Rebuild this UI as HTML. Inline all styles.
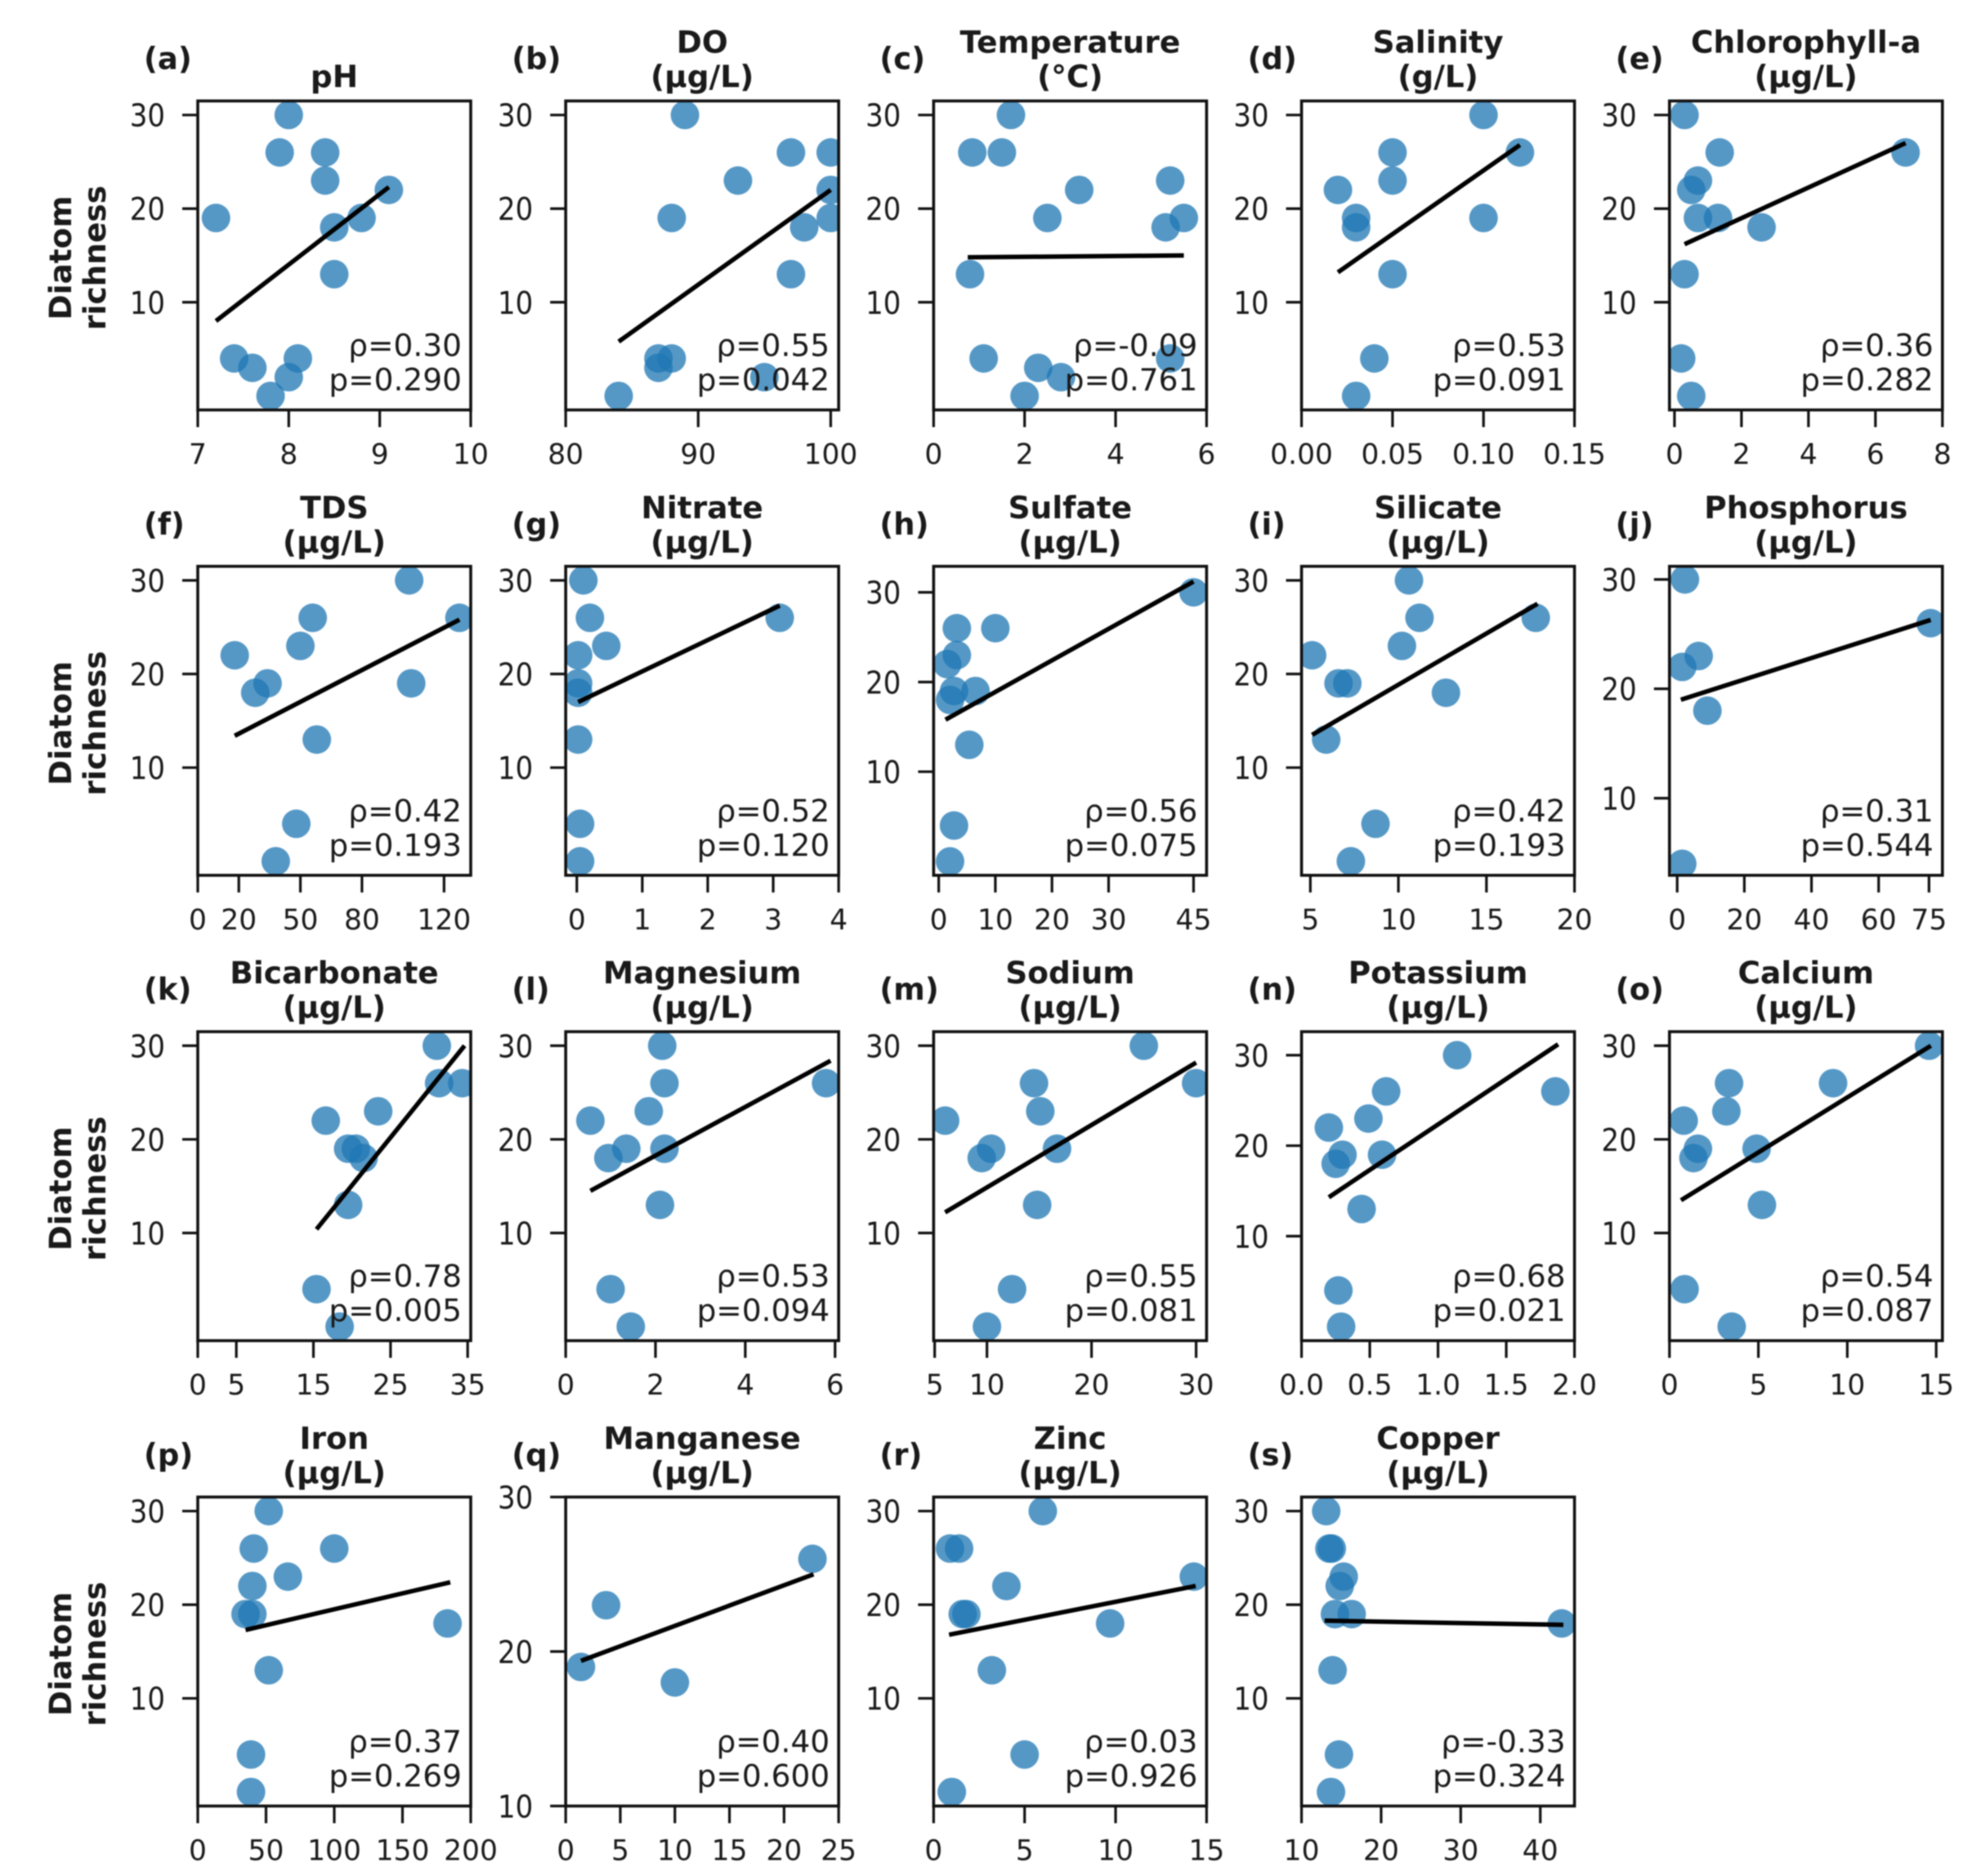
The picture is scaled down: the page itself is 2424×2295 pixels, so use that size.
<!DOCTYPE html>
<html lang="en">
<head>
<meta charset="utf-8">
<title>Diatom richness correlations</title>
<style>
html,body{margin:0;padding:0;background:#fff;}
svg{display:block;filter:blur(0.9px);}
text{font-family:"DejaVu Sans","Liberation Sans",sans-serif;fill:#1a1a1a;}
</style>
</head>
<body>
<svg id="figure" width="2424" height="2295" viewBox="0 0 2424 2295" xmlns="http://www.w3.org/2000/svg">
<rect width="2424" height="2295" fill="#fff"/>
</svg>
<script>
const panelLetters = ['a','b','c','d','e','f','g','h','i','j','k','l','m','n','o','p','q','r','s'];
const titleFirstLines = ['','DO','Temperature','Salinity','Chlorophyll-a','TDS','Nitrate','Sulfate','Silicate','Phosphorus','Bicarbonate','Magnesium','Sodium','Potassium','Calcium','Iron','Manganese','Zinc','Copper'];
const titleSecondLines = ['pH','(μg/L)','(°C)','(g/L)','(μg/L)','(μg/L)','(μg/L)','(μg/L)','(μg/L)','(μg/L)','(μg/L)','(μg/L)','(μg/L)','(μg/L)','(μg/L)','(μg/L)','(μg/L)','(μg/L)','(μg/L)'];
const rhoLabels = ['0.30','0.55','-0.09','0.53','0.36','0.42','0.52','0.56','0.42','0.31','0.78','0.53','0.55','0.68','0.54','0.37','0.40','0.03','-0.33'];
const pLabels = ['0.290','0.042','0.761','0.091','0.282','0.193','0.120','0.075','0.193','0.544','0.005','0.094','0.081','0.021','0.087','0.269','0.600','0.926','0.324'];

const xLimits = [[7,10],[80,100.6],[0,6],[0,0.15],[-0.15,8],[0,133],[-0.17,4],[-0.9,47.3],[4.5,20],[-2.3,79],[0,35.4],[0,6.08],[4.9,31],[0,2],[0,15.35],[0,200],[0,25],[0,15],[10,44.3]];
const yLimits = [[-1.5,31.5],[-1.5,31.5],[-1.5,31.5],[-1.5,31.5],[-1.5,31.5],[-1.5,31.5],[-1.5,31.5],[-1.55,32.9],[-1.5,31.5],[2.95,31.2],[-1.5,31.5],[-1.5,31.5],[-1.5,31.5],[-1.55,32.6],[-1.5,31.5],[-1.5,31.5],[10,30],[-1.5,31.5],[-1.5,31.5]];

const xTickValues = [
  [7,8,9,10],[80,90,100],[0,2,4,6],[0,0.05,0.10,0.15],[0,2,4,6,8],
  [0,20,50,80,120],[0,1,2,3,4],[0,10,20,30,45],[5,10,15,20],[0,20,40,60,75],
  [0,5,15,25,35],[0,2,4,6],[5,10,20,30],[0,0.5,1,1.5,2],[0,5,10,15],
  [0,50,100,150,200],[0,5,10,15,20,25],[0,5,10,15],[10,20,30,40]
];
const xTickLabels = [
  ['7','8','9','10'],['80','90','100'],['0','2','4','6'],['0.00','0.05','0.10','0.15'],['0','2','4','6','8'],
  ['0','20','50','80','120'],['0','1','2','3','4'],['0','10','20','30','45'],['5','10','15','20'],['0','20','40','60','75'],
  ['0','5','15','25','35'],['0','2','4','6'],['5','10','20','30'],['0.0','0.5','1.0','1.5','2.0'],['0','5','10','15'],
  ['0','50','100','150','200'],['0','5','10','15','20','25'],['0','5','10','15'],['10','20','30','40']
];
const yTickValues = [10,20,30];

const xValues = [
  [7.2,7.4,7.6,7.8,7.9,8,8,8.1,8.4,8.4,8.5,8.5,8.8,9.1],
  [89,93,97,100,100,100,98,97,88,88,87,87,84,95],
  [0.85,1.5,1.7,0.8,1.1,2.3,2.8,2,2.5,3.2,5.2,5.1,5.5,5.2],
  [0.10,0.12,0.05,0.05,0.02,0.03,0.03,0.10,0.05,0.04,0.03],
  [0.3,1.35,6.9,0.7,0.5,0.7,1.3,2.6,0.3,0.2,0.5],
  [103,127.5,56,50,18,34,28,104,58,48,38],
  [0.1,0.2,3.1,0.45,0.02,0.02,0.02,0.02,0.05,0.05],
  [45,10,3.2,3.2,1.5,2.7,6.5,2,5.4,2.7,2],
  [10.6,11.2,17.8,10.2,5.1,6.6,7.1,12.7,5.9,8.7,7.3],
  [2.3,75.5,6.4,1.5,9,1.5],
  [31,34.3,31.3,23.4,16.6,19.5,20.5,21.5,19.5,15.4,18.4],
  [2.15,5.8,2.2,1.85,0.55,2.2,1.35,0.95,2.1,1,1.45],
  [25,30,14.5,15.1,6,10.4,16.7,9.5,14.8,12.4,10],
  [1.14,1.86,0.62,0.49,0.2,0.3,0.59,0.25,0.44,0.27,0.29],
  [14.6,9.2,3.35,3.2,0.8,1.6,4.9,1.35,5.2,0.85,3.5],
  [52,100,41,66,40,35,40,183,52,39,39],
  [22.6,3.7,1.4,10],
  [6,0.9,1.4,14.3,4,1.6,1.8,9.7,3.2,5,1],
  [13.1,13.5,13.8,15.3,14.8,14.2,16.3,42.7,13.9,14.7,13.7]
];
const yValues = [
  [19,4,3,0,26,30,2,4,26,23,18,13,19,22],
  [30,23,26,26,22,19,18,13,19,4,4,3,0,2],
  [26,26,30,13,4,3,2,0,19,22,23,18,19,4],
  [30,26,26,23,22,19,18,19,13,4,0],
  [30,26,26,23,22,19,19,18,13,4,0],
  [30,26,26,23,22,19,18,19,13,4,0],
  [30,26,26,23,22,19,18,13,4,0],
  [30,26,26,23,22,19,19,18,13,4,0],
  [30,26,26,23,22,19,19,18,13,4,0],
  [30,26,23,22,18,4],
  [30,26,26,23,22,19,19,18,13,4,0],
  [30,26,26,23,22,19,19,18,13,4,0],
  [30,26,26,23,22,19,19,18,13,4,0],
  [30,26,26,23,22,19,19,18,13,4,0],
  [30,26,26,23,22,19,19,18,13,4,0],
  [30,26,26,23,22,19,19,18,13,4,0],
  [26,23,19,18],
  [30,26,26,23,22,19,19,18,13,4,0],
  [30,26,26,23,22,19,19,18,13,4,0]
];
const fitX = [[7.2,9.1],[84,100],[0.75,5.5],[0.02,0.12],[0.3,6.9],[18,127.5],[0.02,3.1],[1.2,45],[5.1,17.9],[1.1,75.5],[15.4,34.6],[0.55,5.9],[6,30],[0.2,1.88],[0.65,14.7],[35,185],[1.4,22.7],[0.85,14.4],[12.9,42.9]];
const fitY = [[8,22.3],[5.8,22],[14.8,15],[13.2,26.8],[16.2,27],[13.4,25.8],[17,27.3],[15.8,31.2],[13.5,27.5],[19,26.3],[10.4,30],[14.5,28.4],[12.2,28.2],[14.3,31.2],[13.5,30],[17.3,22.4],[19.4,25],[16.8,22],[18.3,17.85]];

const SVG_NS = 'http://www.w3.org/2000/svg';
const figure = document.getElementById('figure');
const AXIS_LEFT = 242, COL_STEP = 450.2, AXIS_W = 334;
const AXIS_TOP = 123.5, ROW_STEP = 569.3, AXIS_H = 378;
const INK = '#111';
const TICK_FONT = 34.5;
const LABEL_FONT = 37.5;

function make(tag, parent, attrs) {
  const el = document.createElementNS(SVG_NS, tag);
  for (const k in attrs) el.setAttribute(k, attrs[k]);
  parent.appendChild(el);
  return el;
}
function scaleX(i, v, left) {
  const [a, b] = xLimits[i];
  return left + (v - a) / (b - a) * AXIS_W;
}
function scaleY(i, v, top) {
  const [a, b] = yLimits[i];
  return top + AXIS_H - (v - a) / (b - a) * AXIS_H;
}

const defs = make('defs', figure, {});
panelLetters.forEach(function (letter, i) {
  const col = i % 5, row = Math.floor(i / 5);
  const left = AXIS_LEFT + col * COL_STEP;
  const top = AXIS_TOP + row * ROW_STEP;
  const bottom = top + AXIS_H, right = left + AXIS_W;

  const g = make('g', figure, {});
  
  

  const clip = make('clipPath', defs, { id: 'clip-' + letter });
  make('rect', clip, { x: left, y: top, width: AXIS_W, height: AXIS_H });

  const plot = make('g', g, { 'clip-path': 'url(#clip-' + letter + ')' });
  
  

  xValues[i].forEach(function (xv, k) {
    const dot = make('circle', plot, {
      cx: scaleX(i, xv, left).toFixed(2),
      cy: scaleY(i, yValues[i][k], top).toFixed(2),
      r: 17.5, fill: '#1f77b4', 'fill-opacity': 0.76
    });
    
    
  });

  const fit = make('line', plot, {
    x1: scaleX(i, fitX[i][0], left).toFixed(2),
    y1: scaleY(i, fitY[i][0], top).toFixed(2),
    x2: scaleX(i, fitX[i][1], left).toFixed(2),
    y2: scaleY(i, fitY[i][1], top).toFixed(2),
    stroke: '#000', 'stroke-width': 5.5
  });
  
  

  const frame = make('rect', g, { x: left, y: top, width: AXIS_W, height: AXIS_H, fill: 'none', stroke: INK, 'stroke-width': 3.6 });
  
  

  xTickValues[i].forEach(function (tv, k) {
    const px = scaleX(i, tv, left);
    const tick = make('line', g, { x1: px, y1: bottom, x2: px, y2: bottom + 21, stroke: INK, 'stroke-width': 3.2 });
    
    
    const lab = make('text', g, { x: px, y: bottom + 66, 'text-anchor': 'middle', 'font-size': TICK_FONT });
    lab.textContent = xTickLabels[i][k];
    
    
  });

  yTickValues.forEach(function (tv) {
    const py = scaleY(i, tv, top);
    const tick = make('line', g, { x1: left - 19, y1: py, x2: left, y2: py, stroke: INK, 'stroke-width': 3.2 });
    
    
    const lab = make('text', g, {
      transform: 'translate(' + (left - 40) + ' ' + (py + 14) + ') scale(1 1.12)',
      'text-anchor': 'end', 'font-size': 34
    });
    lab.textContent = String(tv);
    
    
  });

  const cx = left + AXIS_W / 2;
  if (titleFirstLines[i]) {
    const t1 = make('text', g, { x: cx, y: top - 59, 'text-anchor': 'middle', 'font-size': LABEL_FONT, 'font-weight': 'bold' });
    t1.textContent = titleFirstLines[i];
    
    
  }
  const t2 = make('text', g, { x: cx, y: top - 17, 'text-anchor': 'middle', 'font-size': LABEL_FONT, 'font-weight': 'bold' });
  t2.textContent = titleSecondLines[i];
  
  

  const tag = make('text', g, { x: left - 66, y: top - 39, 'font-size': 37, 'font-weight': 'bold' });
  tag.textContent = '(' + letter + ')';
  
  

  const rho = make('text', g, { x: right - 11, y: bottom - 66, 'text-anchor': 'end', 'font-size': LABEL_FONT });
  rho.textContent = 'ρ=' + rhoLabels[i];
  
  

  const pv = make('text', g, { x: right - 11, y: bottom - 24, 'text-anchor': 'end', 'font-size': LABEL_FONT });
  pv.textContent = 'p=' + pLabels[i];
  
  

  if (col === 0) {
    const cy = top + AXIS_H / 2 + 3;
    const yl = make('text', g, { transform: 'translate(87 ' + cy + ') rotate(-90)', 'text-anchor': 'middle', 'font-size': LABEL_FONT, 'font-weight': 'bold' });
    yl.textContent = 'Diatom';
    
    
    const yl2 = make('text', g, { transform: 'translate(129 ' + cy + ') rotate(-90)', 'text-anchor': 'middle', 'font-size': LABEL_FONT, 'font-weight': 'bold' });
    yl2.textContent = 'richness';
    
    
  }
});
</script>
</body>
</html>
